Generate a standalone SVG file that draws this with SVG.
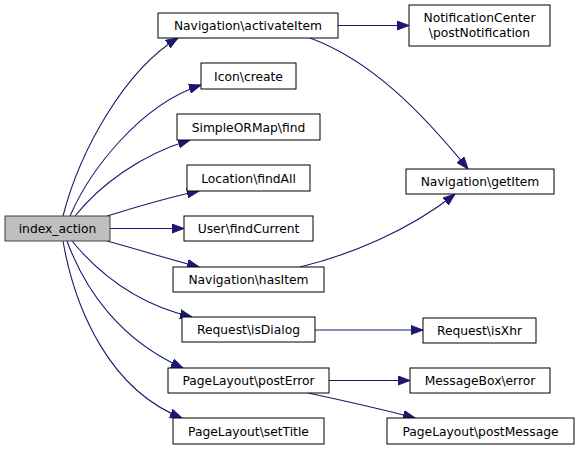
<svg xmlns="http://www.w3.org/2000/svg" width="579" height="450" viewBox="0 0 579 450">
<style>
.n rect{fill:#ffffff;stroke:#000000;stroke-width:1}
.root rect{fill:#bfbfbf;stroke:#404040;stroke-width:1}
text{font-family:"DejaVu Sans",sans-serif;font-size:12.3px;fill:#000000;text-anchor:middle}
.e path{fill:none;stroke:#191970;stroke-width:1.1}
</style>
<defs>
<marker id="ah" markerWidth="13" markerHeight="10" refX="12" refY="5" orient="auto" markerUnits="userSpaceOnUse">
<path d="M0,0.5 L12,5 L0,9.5 Z" fill="#191970" stroke="#191970" stroke-width="1"/>
</marker>
</defs>
<rect width="579" height="450" fill="#ffffff"/>
<g id="connectors" class="e">
<path d="M63,216 C80,150 125,70 178,38" marker-end="url(#ah)"/>
<path d="M70,216 C90,170 140,105 201,85" marker-end="url(#ah)"/>
<path d="M75,216 C100,185 140,155 190,140" marker-end="url(#ah)"/>
<path d="M107,216 C140,206 165,198 199,191" marker-end="url(#ah)"/>
<path d="M110,228.5 L184,228.5" marker-end="url(#ah)"/>
<path d="M107,241 C140,250 165,258 199,267" marker-end="url(#ah)"/>
<path d="M72,241 C100,275 140,305 192,317" marker-end="url(#ah)"/>
<path d="M67,241 C85,290 120,340 183,368" marker-end="url(#ah)"/>
<path d="M63,241 C75,310 110,390 182,418" marker-end="url(#ah)"/>
<path d="M338,25.5 L409,25.5" marker-end="url(#ah)"/>
<path d="M310,38 C370,60 420,110 468,169" marker-end="url(#ah)"/>
<path d="M300,267 C350,255 410,230 455,194" marker-end="url(#ah)"/>
<path d="M315,330 L423,330" marker-end="url(#ah)"/>
<path d="M329,380.5 L410,380.5" marker-end="url(#ah)"/>
<path d="M308,393 C350,402 385,410 415,418" marker-end="url(#ah)"/>
</g>
<g id="index_action" class="root"><rect x="5" y="216" width="105" height="25"/><text x="57.5" y="233">index_action</text></g>
<g id="activateItem" class="n"><rect x="158" y="13" width="180" height="25"/><text x="248" y="30">Navigation\activateItem</text></g>
<g id="iconCreate" class="n"><rect x="201" y="63" width="95" height="26"/><text x="248.5" y="80.5">Icon\create</text></g>
<g id="simpleORMapFind" class="n"><rect x="177" y="114" width="143" height="26"/><text x="248.5" y="131.5">SimpleORMap\find</text></g>
<g id="locationFindAll" class="n"><rect x="187" y="165" width="123" height="26"/><text x="248.5" y="182.5">Location\findAll</text></g>
<g id="userFindCurrent" class="n"><rect x="184" y="216" width="129" height="25"/><text x="248.5" y="233">User\findCurrent</text></g>
<g id="hasItem" class="n"><rect x="173" y="267" width="151" height="25"/><text x="248.5" y="284">Navigation\hasItem</text></g>
<g id="isDialog" class="n"><rect x="182" y="317" width="133" height="25"/><text x="248.5" y="334">Request\isDialog</text></g>
<g id="postError" class="n"><rect x="168" y="368" width="161" height="25"/><text x="248.5" y="385">PageLayout\postError</text></g>
<g id="setTitle" class="n"><rect x="173" y="418" width="151" height="26"/><text x="248.5" y="435.5">PageLayout\setTitle</text></g>
<g id="postNotification" class="n"><rect x="409" y="5" width="141" height="41"/><text x="479.5" y="21.5">NotificationCenter</text><text x="479.5" y="37">\postNotification</text></g>
<g id="getItem" class="n"><rect x="406" y="169" width="148" height="25"/><text x="480" y="186">Navigation\getItem</text></g>
<g id="isXhr" class="n"><rect x="423" y="318" width="113" height="25"/><text x="479.5" y="335">Request\isXhr</text></g>
<g id="messageBoxError" class="n"><rect x="410" y="368" width="140" height="25"/><text x="480" y="385">MessageBox\error</text></g>
<g id="postMessage" class="n"><rect x="387" y="418" width="187" height="26"/><text x="480.5" y="435.5">PageLayout\postMessage</text></g>
</svg>
